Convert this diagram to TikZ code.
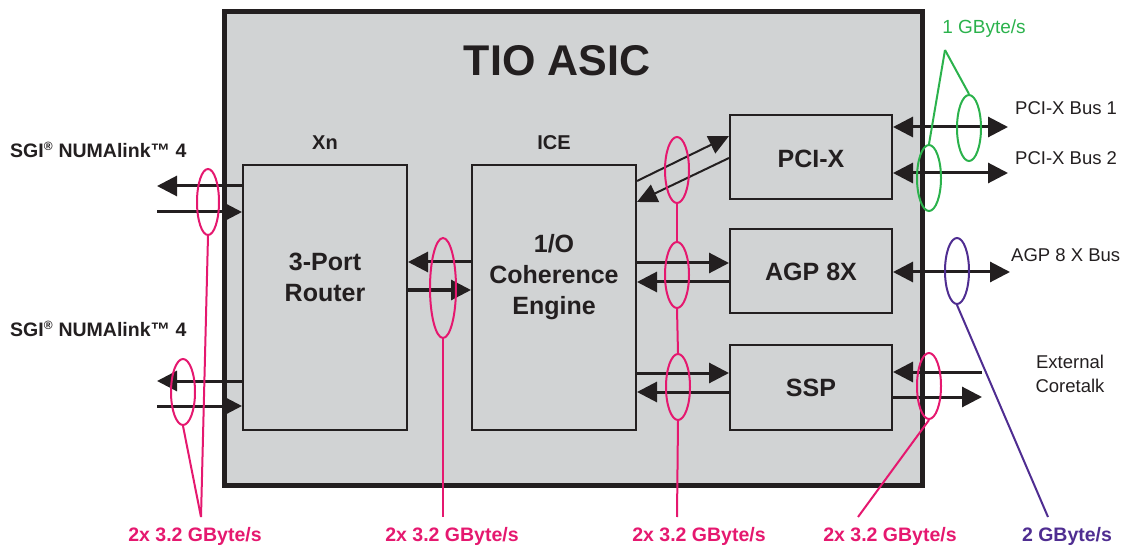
\documentclass[tikz,border=0pt]{standalone}
\usepackage{fontspec}
\setmainfont{Liberation Sans}
\usetikzlibrary{arrows.meta,shapes.geometric}
\definecolor{pk}{HTML}{E5186F}
\definecolor{gr}{HTML}{2BB24C}
\definecolor{pu}{HTML}{4F2D91}
\definecolor{bg}{HTML}{D1D3D4}
\definecolor{ink}{HTML}{231F20}
\tikzset{
  tip/.tip={Triangle[length=20pt,width=20pt]},
  blk/.style={draw=ink, line width=2pt, fill=bg, inner sep=0pt},
  boxtext/.style={font=\bfseries\fontsize{25}{31}\selectfont, text=ink, align=center, inner sep=0pt},
  hdr/.style={font=\bfseries\fontsize{20}{24}\selectfont, text=ink, inner sep=0pt},
  arr/.style={draw=ink, line width=3pt, -tip},
  arrd/.style={draw=ink, line width=3pt, tip-tip},
  arrthin/.style={draw=ink, line width=2pt, -{Triangle[length=20pt,width=19pt]}},
  ell/.style={ellipse, draw=#1, line width=2pt, inner sep=0pt, minimum width=24pt, minimum height=66pt},
  lead/.style={draw=#1, line width=2pt},
  rate/.style={font=\bfseries\fontsize{19.5}{22}\selectfont, text=#1, inner sep=0pt},
  bus/.style={font=\fontsize{18.5}{22}\selectfont, text=ink, inner sep=0pt, anchor=west},
  sgi/.style={font=\bfseries\fontsize{19.5}{22}\selectfont, text=ink, inner sep=0pt, anchor=west}
}
\begin{document}
\begin{tikzpicture}[x=1pt,y=-1pt]
\useasboundingbox (0,0) rectangle (1133,548);
% outer ASIC
\node[draw=ink, line width=5pt, fill=bg, inner sep=0pt, minimum width=697.5pt, minimum height=474pt, anchor=north west] (asic) at (222,9) {};
\node[font=\bfseries\fontsize{43}{43}\selectfont, text=ink, inner sep=0pt] (title) at (557,61) {TIO ASIC};
% inner blocks
\node[blk, minimum width=164pt, minimum height=265pt] (xn) at (325,297.5) {};
\node[blk, minimum width=164pt, minimum height=265pt] (ice) at (554,297.5) {};
\node[blk, minimum width=162pt, minimum height=84pt] (pcix) at (811,157) {};
\node[blk, minimum width=162pt, minimum height=84pt] (agp) at (811,271) {};
\node[blk, minimum width=162pt, minimum height=85pt] (ssp) at (811,387.5) {};
\node[boxtext] (xnt) at (325,277) {3-Port\\Router};
\node[boxtext] (icet) at (554,277) {1/O\\Coherence\\Engine};
\node[boxtext] (pcixt) at (811,159) {PCI-X};
\node[boxtext] (agpt) at (811,272) {AGP 8X};
\node[boxtext] (sspt) at (811,388) {SSP};
\node[hdr] (xnh) at (325,143) {Xn};
\node[hdr] (iceh) at (554,143) {ICE};
% left labels
\node[sgi] (sgi1) at (10,150) {SGI\textsuperscript{\fontsize{12}{12}\selectfont ®} NUMAlink™ 4};
\node[sgi] (sgi2) at (10,329) {SGI\textsuperscript{\fontsize{12}{12}\selectfont ®} NUMAlink™ 4};
% left arrows
\coordinate (n1o) at (157,186);
\coordinate (n1i) at (157,212);
\coordinate (n2o) at (157,381);
\coordinate (n2i) at (157,406);
\draw[arr] (xn.west |- 0,186) -- (n1o);
\draw[arr] (n1i) -- (xn.west |- 0,212);
\draw[arr] (xn.west |- 0,381) -- (n2o);
\draw[arr] (n2i) -- (xn.west |- 0,406);
% Xn - ICE
\draw[arr] (ice.west |- 0,262) -- (xn.east |- 0,262);
\draw[arr] (xn.east |- 0,290) -- (ice.west |- 0,290);
% ICE - PCI-X
\draw[arrthin] (ice.east |- 0,181) -- (pcix.west |- 0,136);
\draw[arrthin] (pcix.west |- 0,158) -- (ice.east |- 0,202);
% ICE - AGP
\draw[arr] (ice.east |- 0,263) -- (agp.west |- 0,263);
\draw[arr] (agp.west |- 0,282) -- (ice.east |- 0,282);
% ICE - SSP
\draw[arr] (ice.east |- 0,373) -- (ssp.west |- 0,373);
\draw[arr] (ssp.west |- 0,392) -- (ice.east |- 0,392);
% right side buses
\coordinate (b1) at (1008,127);
\coordinate (b2) at (1008,173);
\coordinate (b3) at (1010,272);
\coordinate (c1) at (982,372);
\coordinate (c2) at (982,397);
\draw[arrd] (pcix.east |- 0,127) -- (b1);
\draw[arrd] (pcix.east |- 0,173) -- (b2);
\draw[arrd] (agp.east |- 0,272) -- (b3);
\draw[arr] (c1) -- (ssp.east |- 0,372);
\draw[arr] (ssp.east |- 0,397) -- (c2);
\node[bus] (bus1) at (1015,108) {PCI-X Bus 1};
\node[bus] (bus2) at (1015,158) {PCI-X Bus 2};
\node[bus] (bus3) at (1011,255) {AGP 8 X Bus};
\node[font=\fontsize{18.5}{24}\selectfont, text=ink, align=center, inner sep=0pt] (ext) at (1070,374) {External\\Coretalk};
% ellipses
\node[ell=pk, minimum width=22pt] (e1) at (208,202) {};
\node[ell=pk] (e2) at (183,392) {};
\node[ell=pk, minimum width=26pt, minimum height=100pt] (e3) at (443,288) {};
\node[ell=pk] (e4) at (677,170) {};
\node[ell=pk] (e5) at (677,275) {};
\node[ell=pk] (e6) at (678,387) {};
\node[ell=pk] (e7) at (929,386) {};
\node[ell=pu] (e8) at (957,271) {};
\node[ell=gr] (g1) at (969,128) {};
\node[ell=gr] (g2) at (929,178) {};
% leaders
\coordinate (p1) at (201,517);
\coordinate (p2) at (443,517);
\coordinate (p3) at (677,517);
\coordinate (p4) at (858,517);
\coordinate (p5) at (1048,517);
\coordinate (gap) at (945,50);
\draw[lead=pk] (e1.south) -- (p1);
\draw[lead=pk] (e2.south) -- (p1);
\draw[lead=pk] (e3.south) -- (p2);
\draw[lead=pk] (e4.south) -- (e5.north);
\draw[lead=pk] (e5.south) -- (e6.north);
\draw[lead=pk] (e6.south) -- (p3);
\draw[lead=pk] (e7.south) -- (p4);
\draw[lead=pu] (e8.south) -- (p5);
\draw[lead=gr] (gap) -- (g1.north);
\draw[lead=gr] (gap) -- (g2.north);
% rate labels
\node[rate=pk] (r1) at (195,536) {2x 3.2 GByte/s};
\node[rate=pk] (r2) at (452,536) {2x 3.2 GByte/s};
\node[rate=pk] (r3) at (699,536) {2x 3.2 GByte/s};
\node[rate=pk] (r4) at (890,536) {2x 3.2 GByte/s};
\node[rate=pu] (r5) at (1067,536) {2 GByte/s};
\node[font=\fontsize{19}{22}\selectfont, text=gr, inner sep=0pt] (r6) at (984,29) {1 GByte/s};
\end{tikzpicture}
\end{document}
